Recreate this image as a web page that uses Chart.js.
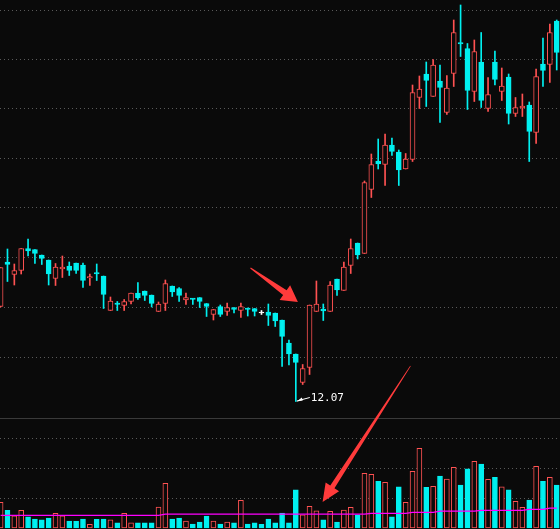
<!DOCTYPE html>
<html><head><meta charset="utf-8">
<script src="https://cdn.jsdelivr.net/npm/chart.js@4"></script>
<style>html,body{margin:0;padding:0;background:#0a0a0a;overflow:hidden}#w{width:560px;height:529px}</style>
</head><body><div id="w"><canvas id="c"></canvas></div>
<script>
const opens  =[13.97,14.86,14.61,14.69,15.13,15.11,15.0,14.9,14.53,14.73,14.78,14.84,14.8,14.55,14.64,14.58,13.89,14.04,13.99,14.07,14.24,14.28,14.2,13.87,14.03,14.38,14.33,14.1,14.13,14.15,14.03,13.81,13.97,13.87,13.95,13.89,13.94,13.93,13.85,13.86,13.84,13.7,13.24,13.02,12.45,12.75,13.87,13.91,13.87,14.52,14.29,14.79,15.24,15.03,16.31,16.88,16.81,17.2,17.06,16.72,16.91,18.15,18.62,18.17,18.48,17.85,18.63,19.24,19.13,18.27,18.86,17.93,18.86,18.27,18.56,17.83,17.95,18.0,17.45,18.82,18.81,19.68];
const highs  =[14.75,15.12,14.82,15.13,15.32,15.11,15.0,14.9,14.83,14.98,14.86,14.84,14.84,14.62,14.82,14.58,14.16,14.07,14.11,14.24,14.45,14.28,14.2,14.06,14.5,14.38,14.35,14.24,14.13,14.15,14.03,13.91,14.0,14.04,13.95,14.04,13.94,13.93,13.89,14.02,13.84,13.7,13.3,13.02,12.81,14.0,14.48,14.02,14.47,14.52,14.86,15.32,15.24,16.48,17.02,17.32,17.42,17.34,17.1,17.03,18.4,18.58,18.86,18.91,18.8,18.59,19.7,20.0,19.23,19.3,19.45,18.55,19.08,18.74,18.62,18.15,18.22,18.06,18.72,19.34,19.62,19.7];
const lows   =[13.96,14.47,14.4,14.62,14.98,14.83,14.81,14.4,14.39,14.55,14.59,14.63,14.35,14.39,14.49,13.93,13.89,13.89,13.89,14.02,14.11,14.09,13.96,13.87,13.89,14.17,14.07,14.01,14.01,13.95,13.77,13.7,13.77,13.79,13.84,13.75,13.78,13.78,13.81,13.59,13.57,12.77,12.8,12.07,12.41,12.61,13.87,13.69,13.87,14.19,14.29,14.63,14.92,15.03,16.15,16.72,16.39,16.99,16.39,16.72,16.87,17.93,17.97,18.17,17.65,17.81,18.37,18.97,17.91,18.07,17.95,17.87,18.4,18.09,17.62,17.77,17.77,16.87,17.23,18.37,18.45,18.7];
const closes =[14.75,14.81,14.69,15.13,15.08,15.03,14.93,14.62,14.76,14.75,14.69,14.69,14.49,14.56,14.63,14.21,14.08,14.01,14.07,14.24,14.14,14.19,14.03,14.02,14.43,14.26,14.19,14.15,14.12,14.07,13.97,13.91,13.81,13.95,13.91,13.97,13.91,13.87,13.85,13.79,13.68,13.37,13.02,12.85,12.73,14.0,14.02,13.89,14.4,14.3,14.76,15.13,15.0,16.45,16.81,16.82,17.2,17.07,16.7,16.92,18.25,18.32,18.49,18.8,18.35,18.34,19.45,19.23,18.29,19.07,18.09,18.21,18.51,18.38,17.83,17.95,17.97,17.47,18.57,18.69,19.45,19.05];
const volumes=[0.86,0.59,0.41,0.59,0.37,0.30,0.27,0.33,0.49,0.41,0.23,0.22,0.30,0.12,0.29,0.30,0.27,0.17,0.49,0.17,0.17,0.17,0.17,0.70,1.49,0.30,0.33,0.23,0.13,0.20,0.40,0.23,0.13,0.20,0.17,0.92,0.13,0.17,0.12,0.30,0.17,0.50,0.17,1.27,0.44,0.72,0.57,0.27,0.56,0.20,0.60,0.69,0.44,1.82,1.79,1.56,1.52,0.37,1.37,0.86,1.89,2.66,1.36,1.39,1.73,1.63,2.02,1.43,1.97,2.22,2.13,1.62,1.69,1.37,1.27,0.89,0.69,0.93,2.06,1.56,1.69,1.43];
const volMA  =[0.42,0.42,0.42,0.42,0.42,0.42,0.42,0.42,0.42,0.42,0.42,0.42,0.42,0.42,0.42,0.42,0.42,0.42,0.42,0.42,0.42,0.42,0.42,0.42,0.46,0.46,0.46,0.46,0.46,0.46,0.46,0.46,0.46,0.46,0.46,0.46,0.46,0.46,0.46,0.46,0.46,0.46,0.46,0.46,0.46,0.46,0.46,0.46,0.46,0.46,0.46,0.46,0.46,0.46,0.49,0.49,0.49,0.49,0.49,0.49,0.52,0.52,0.52,0.52,0.56,0.56,0.56,0.56,0.56,0.56,0.59,0.59,0.59,0.59,0.59,0.59,0.59,0.62,0.62,0.62,0.66,0.66];
const priceGrid=[19.91,18.93,17.94,16.94,15.96,14.96,13.96,12.96];
const volGrid=[1,2,3];
const separator=11.74;
const lowLabel='12.07', lowIndex=43;

const RED='#ff5252', CYAN='#00f0f0', BG='#0a0a0a', WHITE='#ffffff';
const colOf=i=>opens[i]===closes[i]?WHITE:(closes[i]>opens[i]?RED:CYAN);
const N=opens.length, idx=[...Array(N).keys()];
const wick=idx.map(i=>({x:i,y:[lows[i],highs[i]]}));
const body=idx.map(i=>{let a=Math.min(opens[i],closes[i]),b=Math.max(opens[i],closes[i]);if(b-a<0.02){a-=0.01;b+=0.01;}return {x:i,y:[a,b]};});
const vol=idx.map(i=>({x:i,y:[0,volumes[i]]}));
const ma=idx.map(i=>({x:i,y:volMA[i]}));
const up=i=>closes[i]>opens[i];

const deco={id:'deco',
 beforeDatasetsDraw(ch){const c=ch.ctx,y=ch.scales.y,v=ch.scales.yv,a=ch.chartArea;
  c.save();c.strokeStyle='#5a5a5a';c.lineWidth=1;c.setLineDash([1,3]);
  const hl=py=>{py=Math.round(py)+0.5;c.beginPath();c.moveTo(a.left,py);c.lineTo(a.right,py);c.stroke();};
  priceGrid.forEach(p=>hl(y.getPixelForValue(p)));volGrid.forEach(p=>hl(v.getPixelForValue(p)));
  c.setLineDash([]);c.strokeStyle='#3a3a3a';hl(y.getPixelForValue(separator));c.restore();},
 afterDatasetsDraw(ch){const c=ch.ctx,x=ch.scales.x,y=ch.scales.y,v=ch.scales.yv;
  c.save();
  // low label
  const lx=x.getPixelForValue(lowIndex),ly=y.getPixelForValue(lows[lowIndex]);
  c.strokeStyle=WHITE;c.fillStyle=WHITE;c.lineWidth=1;
  c.beginPath();c.moveTo(lx+1,ly-0.5);c.lineTo(lx+14,ly-4);c.stroke();
  c.beginPath();c.moveTo(lx+1,ly);c.lineTo(lx+6,ly-4);c.lineTo(lx+7,ly-1);c.closePath();c.fill();
  c.font='11px "DejaVu Sans Mono", monospace';c.textBaseline='middle';c.fillText(lowLabel,lx+15,ly-3);
  // arrows
  const arrow=(x1,y1,x2,y2,w0,w1,hl,hw)=>{const dx=x2-x1,dy=y2-y1,L=Math.hypot(dx,dy),ux=dx/L,uy=dy/L,nx=-uy,ny=ux;
   const bx=x2-ux*hl,by=y2-uy*hl;c.fillStyle='#ff3b3b';c.beginPath();
   c.moveTo(x1+nx*w0,y1+ny*w0);c.lineTo(bx+nx*w1,by+ny*w1);c.lineTo(bx+nx*hw,by+ny*hw);c.lineTo(x2,y2);
   c.lineTo(bx-nx*hw,by-ny*hw);c.lineTo(bx-nx*w1,by-ny*w1);c.lineTo(x1-nx*w0,y1-ny*w0);c.closePath();c.fill();};
  arrow(x.getPixelForValue(36.4),y.getPixelForValue(14.74),x.getPixelForValue(43.3),y.getPixelForValue(14.06),0.5,3,16,9);
  arrow(x.getPixelForValue(59.7),y.getPixelForValue(12.78),x.getPixelForValue(46.9),v.getPixelForValue(0.87),0.3,2.5,18,8);
  c.restore();}};

new Chart(document.getElementById('c'),{
 data:{datasets:[
  {type:'bar',data:body,yAxisID:'y',order:0,barThickness:5,grouped:false,borderSkipped:false,borderWidth:1,
   backgroundColor:idx.map(i=>up(i)?BG:colOf(i)),borderColor:idx.map(colOf)},
  {type:'bar',data:wick,yAxisID:'y',order:1,barThickness:1,grouped:false,borderWidth:0,backgroundColor:idx.map(colOf)},
  {type:'line',data:ma,yAxisID:'yv',order:-1,borderColor:'#ff00ff',borderWidth:1.2,pointRadius:0,tension:0},
  {type:'bar',data:vol,yAxisID:'yv',order:2,barThickness:5,grouped:false,borderSkipped:false,borderWidth:1,
   backgroundColor:idx.map(i=>up(i)?BG:CYAN),borderColor:idx.map(i=>up(i)?RED:CYAN)}
 ]},
 options:{responsive:true,maintainAspectRatio:false,animation:false,events:[],
  layout:{padding:0},
  plugins:{legend:{display:false},tooltip:{enabled:false}},
  scales:{
   x:{type:'linear',min:-0.087,max:81.48,display:false,offset:false},
   y:{min:9.52,max:20.1,display:false},
   yv:{min:-0.033,max:17.6,display:false}
  }},
 plugins:[deco]});
</script></body></html>
